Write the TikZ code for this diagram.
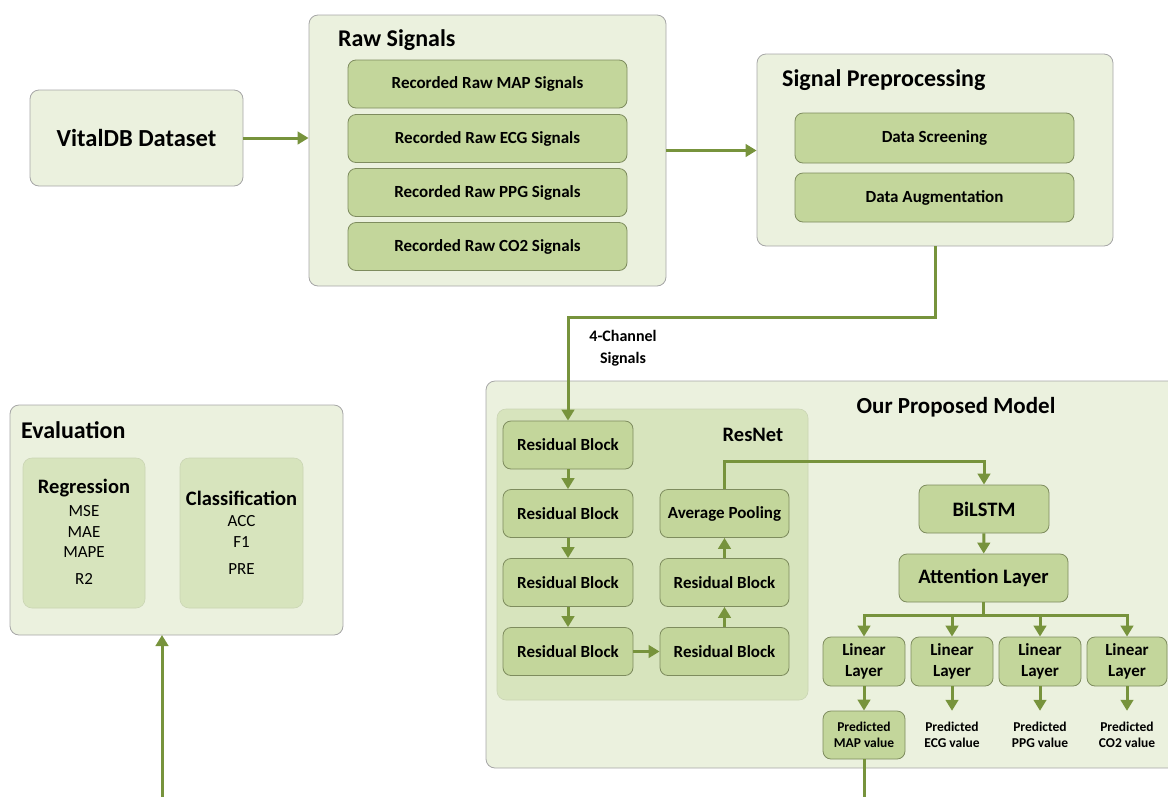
\documentclass[tikz,border=0pt]{standalone}
\usepackage{fontspec}
\setmainfont{Carlito}
\usetikzlibrary{arrows.meta,positioning}
\definecolor{outerfill}{HTML}{EBF1DE}
\definecolor{groupfill}{HTML}{D7E4BD}
\definecolor{blockfill}{HTML}{C3D69B}
\definecolor{blockline}{HTML}{7E8C5E}
\definecolor{flowgreen}{HTML}{77933C}

\begin{document}
\begin{tikzpicture}[x=1pt, y=-1pt,
  dims/.style 2 args={minimum width=#1pt, minimum height=#2pt},
  panel/.style={draw=gray!70, fill=outerfill, rounded corners=9pt, line width=0.8pt, inner sep=0},
  group/.style={draw=groupfill!85!gray, fill=groupfill, rounded corners=9pt, line width=0.6pt, inner sep=0},
  block/.style={draw=blockline, fill=blockfill, rounded corners=8pt, line width=0.8pt, align=center, inner sep=0, font=\bfseries\fontsize{17}{21}\selectfont},
  heading/.style={anchor=west, inner sep=0, font=\bfseries\fontsize{24}{28}\selectfont},
  flow/.style={-{Triangle[width=12.5pt,length=11pt]}, line width=3pt, draw=flowgreen},
  wire/.style={line width=3pt, draw=flowgreen}
]
  \clip (0,0) rectangle (1168,796);

  % Dataset
  \node[panel, dims={213}{96}, font=\bfseries\fontsize{24.5}{28}\selectfont] (vital) at (136.5,138) {VitalDB Dataset};

  % Raw signals
  \node[panel, dims={357}{271}] (raw) at (487.5,150.5) {};
  \node[heading] (rawtitle) at (338,40) {Raw Signals};
  \node[block, dims={279}{48}] (rawmap) at (487.5,84) {Recorded Raw MAP Signals};
  \node[block, dims={279}{48}] (rawecg) at (487.5,138.5) {Recorded Raw ECG Signals};
  \node[block, dims={279}{48}] (rawppg) at (487.5,192.5) {Recorded Raw PPG Signals};
  \node[block, dims={279}{48}] (rawco) at (487.5,246.5) {Recorded Raw CO2 Signals};

  % Preprocessing
  \node[panel, dims={356}{192}] (prep) at (935,150) {};
  \node[heading] (preptitle) at (782,80) {Signal Preprocessing};
  \node[block, dims={279}{50}] (screen) at (934.5,138) {Data Screening};
  \node[block, dims={279}{49}] (augment) at (934.5,197.5) {Data Augmentation};

  % Evaluation
  \node[panel, dims={333}{230}] (eval) at (176.5,520) {};
  \node[heading] (evaltitle) at (21,430) {Evaluation};
  \node[group, dims={122}{150}] (regbox) at (84,533) {};
  \node[group, dims={123}{150}] (clsbox) at (241.5,533) {};
  \node[font=\bfseries\fontsize{20.5}{24}\selectfont, inner sep=0] (regtitle) at (84,488) {Regression};
  \node[font=\bfseries\fontsize{20.5}{24}\selectfont, inner sep=0] (clstitle) at (241.5,498) {Classification};
  \foreach \m/\y in {MSE/511, MAE/532, MAPE/552, R2/579}
    \node[font=\fontsize{17}{20}\selectfont, inner sep=0] (reg-\m) at (84,\y) {\m};
  \foreach \m/\y in {ACC/521, F1/542, PRE/569}
    \node[font=\fontsize{17}{20}\selectfont, inner sep=0] (cls-\m) at (241.5,\y) {\m};

  % Model
  \node[panel, dims={704}{387}] (model) at (838,574.5) {};
  \node[inner sep=0, font=\bfseries\fontsize{23}{27}\selectfont] (modeltitle) at (956,407) {Our Proposed Model};
  \node[group, dims={311}{291}] (resnet) at (652.5,554.5) {};
  \node[inner sep=0, font=\bfseries\fontsize{20.5}{24}\selectfont] (resnettitle) at (753,435) {ResNet};

  \node[block, dims={130}{48}] (res1) at (568,445) {Residual Block};
  \node[block, dims={130}{48}] (res2) at (568,513.5) {Residual Block};
  \node[block, dims={130}{48}] (res3) at (568,582.5) {Residual Block};
  \node[block, dims={130}{48}] (res4) at (568,651.5) {Residual Block};
  \node[block, dims={129}{48}] (res5) at (724.5,651.5) {Residual Block};
  \node[block, dims={129}{48}] (res6) at (724.5,582.5) {Residual Block};
  \node[block, dims={129}{48}] (avgpool) at (724.5,513.5) {Average Pooling};

  \node[block, dims={130}{48}, font=\bfseries\fontsize{20.5}{24}\selectfont] (bilstm) at (984,509) {BiLSTM};
  \node[block, dims={169}{48}, font=\bfseries\fontsize{20.5}{24}\selectfont] (attn) at (983.5,578) {Attention Layer};

  \node[block, dims={82}{49}] (lin1) at (864,661.5) {Linear\\Layer};
  \node[block, dims={82}{49}] (lin2) at (952,661.5) {Linear\\Layer};
  \node[block, dims={82}{49}] (lin3) at (1040,661.5) {Linear\\Layer};
  \node[block, dims={80}{49}] (lin4) at (1127,661.5) {Linear\\Layer};

  \node[block, dims={82}{48}, font=\bfseries\fontsize{13.5}{16}\selectfont] (mapv) at (864,735) {Predicted\\MAP value};
  \node[dims={82}{48}, align=center, inner sep=0, font=\bfseries\fontsize{13.5}{16}\selectfont] (ecgv) at (952,735) {Predicted\\ECG value};
  \node[dims={82}{48}, align=center, inner sep=0, font=\bfseries\fontsize{13.5}{16}\selectfont] (ppgv) at (1040,735) {Predicted\\PPG value};
  \node[dims={82}{48}, align=center, inner sep=0, font=\bfseries\fontsize{13.5}{16}\selectfont] (cov) at (1127,735) {Predicted\\CO2 value};

  % Label
  \node[align=center, inner sep=0, font=\bfseries\fontsize{16}{22}\selectfont] (chan) at (623,348) {4-Channel\\Signals};

  % Flow
  \draw[flow] (vital.east) -- (vital.east -| raw.west);
  \draw[flow] (raw.east) -- (raw.east -| prep.west);
  \draw[flow] (prep.south) -- ++(0,71) -| (res1.north);

  \draw[flow] (res1) -- (res2);
  \draw[flow] (res2) -- (res3);
  \draw[flow] (res3) -- (res4);
  \draw[flow] (res4) -- (res5);
  \draw[flow] (res5) -- (res6);
  \draw[flow] (res6) -- (avgpool);
  \draw[flow] (avgpool.north) -- ++(0,-28) -| (bilstm.north);
  \draw[flow] (bilstm) -- (attn);

  \draw[wire] (attn.south) -- ++(0,13) coordinate (fork);
  \draw[flow] (fork) -| (lin1.north);
  \draw[flow] (fork) -| (lin4.north);
  \draw[flow] (lin2.north |- fork) -- (lin2.north);
  \draw[flow] (lin3.north |- fork) -- (lin3.north);

  \draw[flow] (lin1) -- (mapv);
  \draw[flow] (lin2) -- (ecgv);
  \draw[flow] (lin3) -- (ppgv);
  \draw[flow] (lin4) -- (cov);

  \coordinate (evalin) at (162,635);
  \coordinate (loop) at (162,830);
  \draw[flow] (mapv.south) |- (loop) -- (evalin);
\end{tikzpicture}
\end{document}
